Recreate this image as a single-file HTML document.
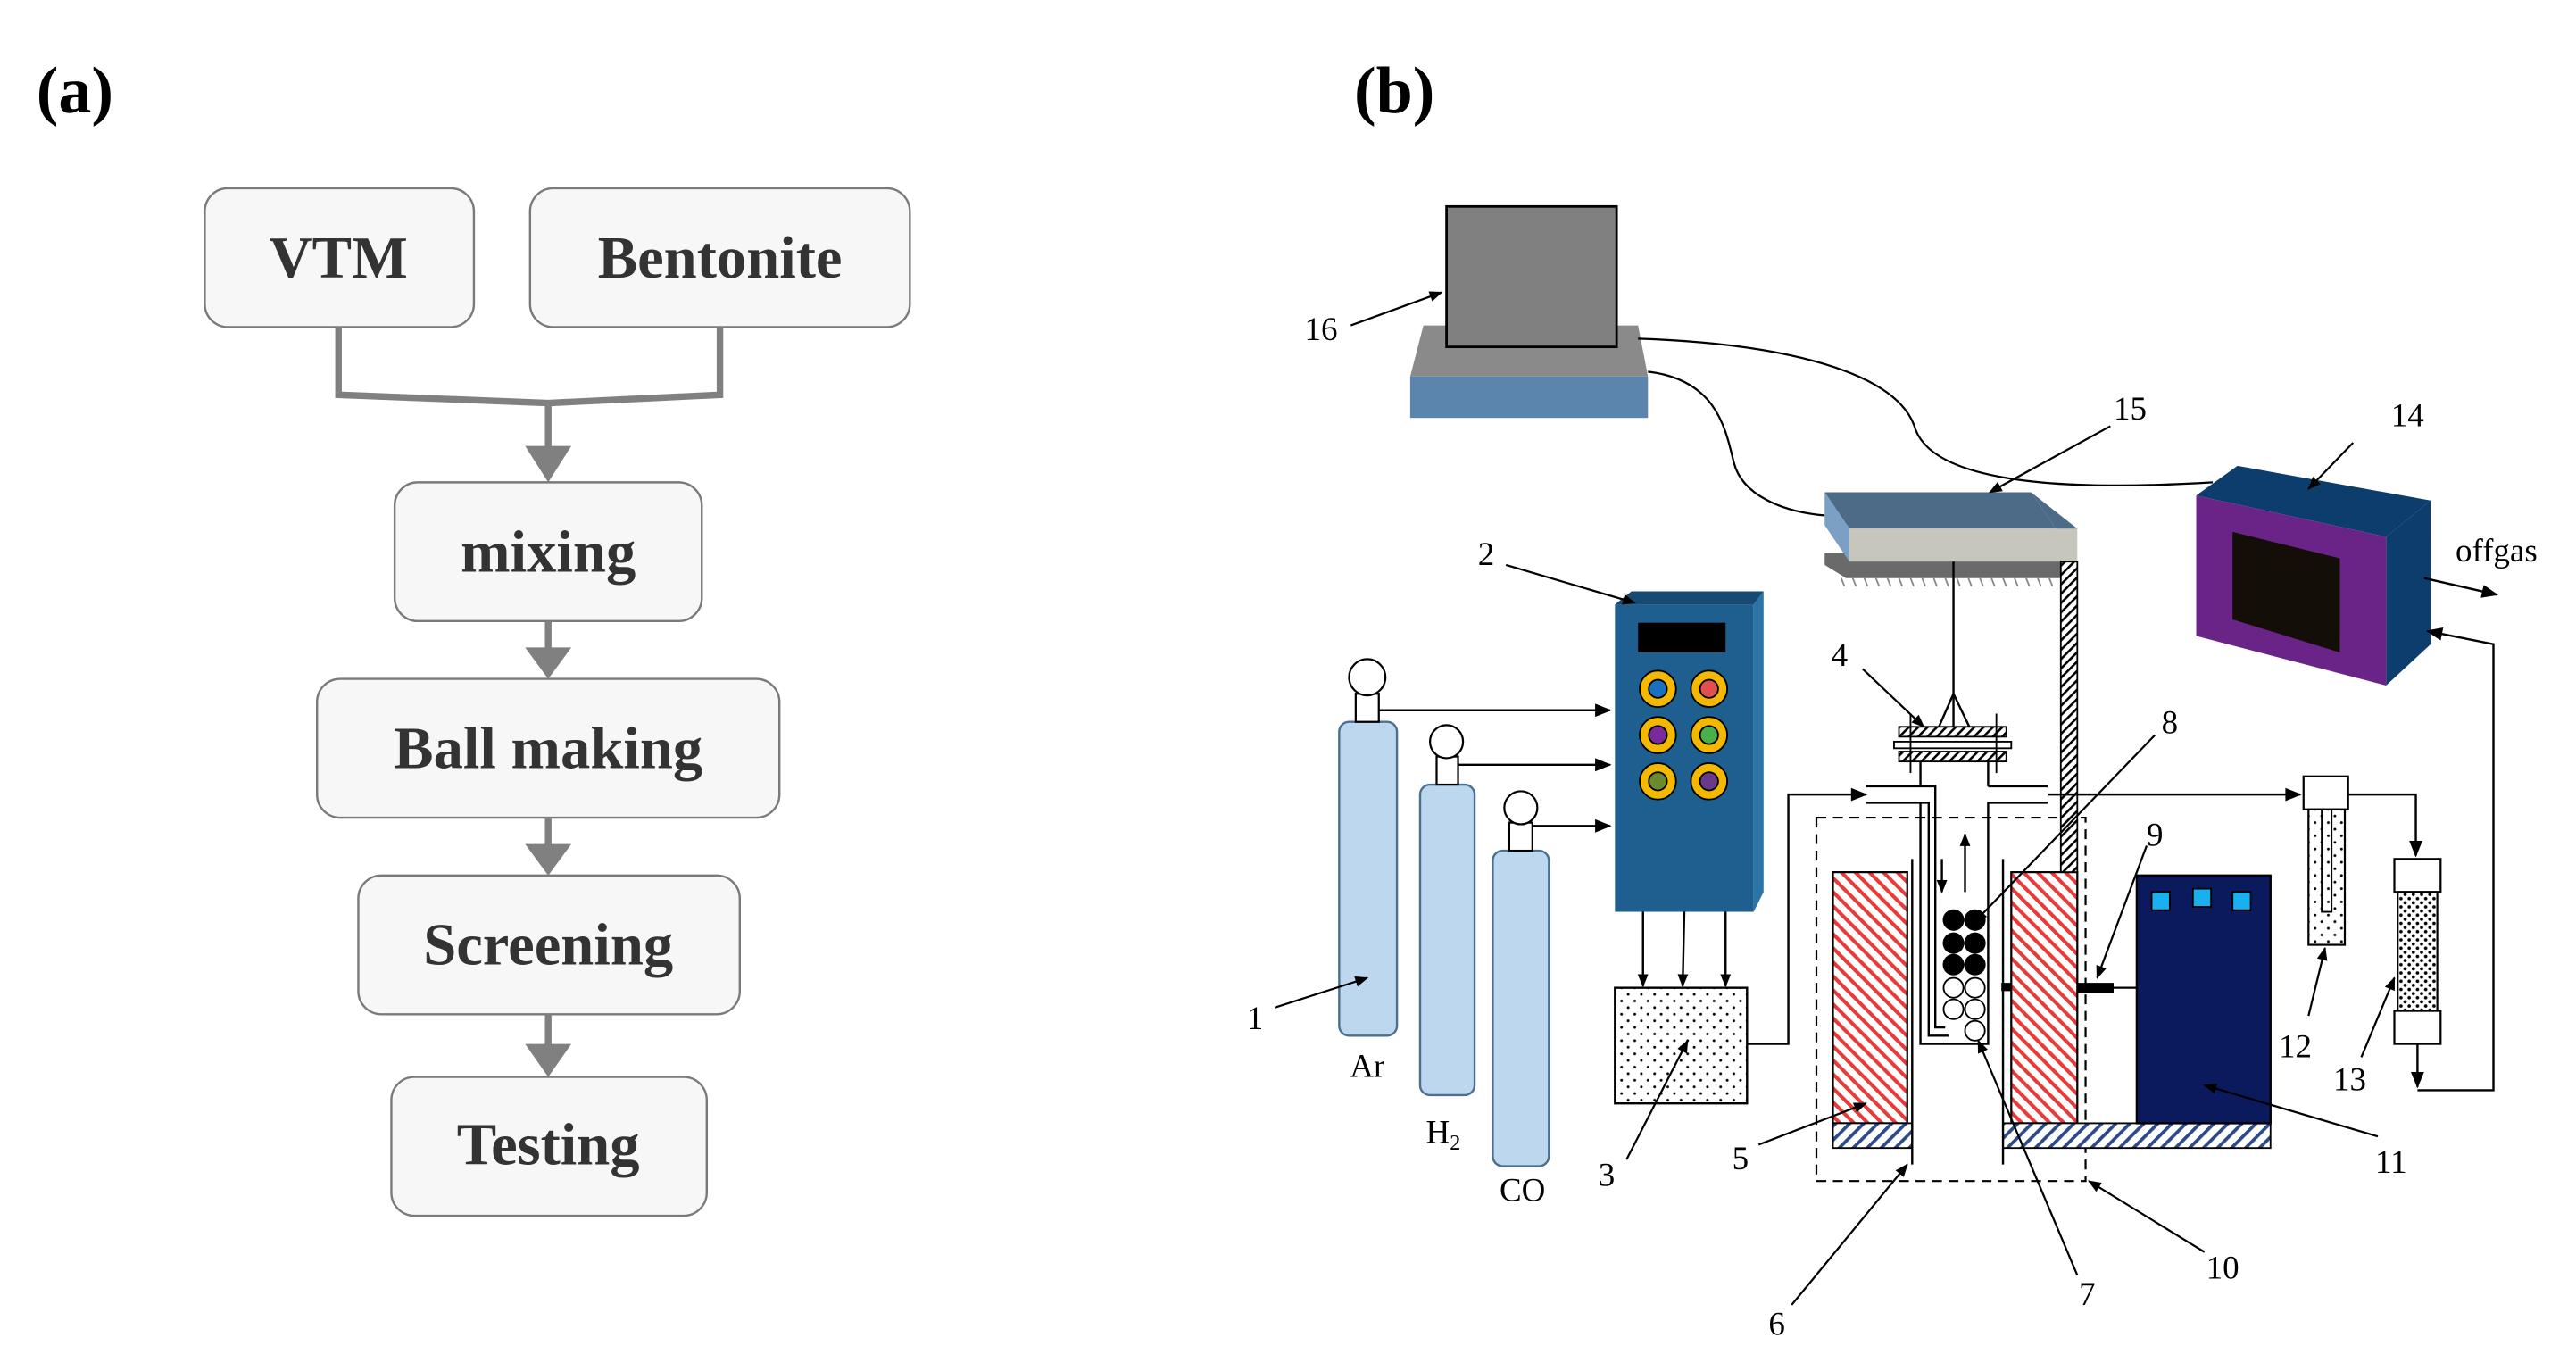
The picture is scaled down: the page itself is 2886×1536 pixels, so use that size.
<!DOCTYPE html>
<html><head><meta charset="utf-8"><style>
html,body{margin:0;padding:0;background:#fff;}
svg{display:block;}
.t{font-family:"Liberation Serif",serif;}
</style></head><body>
<svg width="2886" height="1536" viewBox="0 0 1560 830" preserveAspectRatio="none" xmlns="http://www.w3.org/2000/svg">
<defs>
<pattern id="red" width="6" height="6" patternUnits="userSpaceOnUse" patternTransform="rotate(-45)"><rect width="6" height="6" fill="#fff"/><rect width="2.2" height="6" fill="#e83a3a"/></pattern>
<pattern id="blue" width="6" height="6" patternUnits="userSpaceOnUse" patternTransform="rotate(45)"><rect width="6" height="6" fill="#fff"/><rect width="2" height="6" fill="#2a4a8a"/></pattern>
<pattern id="blk" width="4" height="4" patternUnits="userSpaceOnUse" patternTransform="rotate(45)"><rect width="4" height="4" fill="#fff"/><rect width="1.4" height="4" fill="#000"/></pattern>
<pattern id="dots" width="8" height="8" patternUnits="userSpaceOnUse"><rect width="8" height="8" fill="#fff"/><circle cx="2" cy="2" r="0.8" fill="#000"/><circle cx="6" cy="6" r="0.8" fill="#000"/></pattern>
<pattern id="dots2" width="5" height="5" patternUnits="userSpaceOnUse"><rect width="5" height="5" fill="#fff"/><circle cx="1.5" cy="1.5" r="1" fill="#000"/><circle cx="4" cy="4" r="1" fill="#000"/></pattern>
<marker id="ah" viewBox="0 0 10 10" refX="9" refY="5" markerWidth="9" markerHeight="8" orient="auto-start-reverse" markerUnits="userSpaceOnUse"><path d="M0,1 L10,5 L0,9 z" fill="#000"/></marker>
<marker id="ah2" viewBox="0 0 10 10" refX="9" refY="5" markerWidth="14" markerHeight="10" orient="auto" markerUnits="userSpaceOnUse"><path d="M0,1 L10,5 L0,9 z" fill="#000"/></marker>
</defs>

<!-- Panel (a) -->
<text x="22" y="68" class="t" font-size="40" font-weight="bold">(a)</text>
<g fill="#f7f7f7" stroke="#7a7a7a" stroke-width="1.3">
<rect x="124" y="114" width="163" height="84" rx="14"/>
<rect x="321" y="114" width="230" height="84" rx="14"/>
<rect x="239" y="292" width="186" height="84" rx="14"/>
<rect x="192" y="411" width="280" height="84" rx="14"/>
<rect x="217" y="530" width="231" height="84" rx="14"/>
<rect x="237" y="652" width="191" height="84" rx="14"/>
</g>
<g fill="none" stroke="#808080" stroke-width="4">
<polyline points="205,198 205,239 332,244 436,239 436,198"/>
<line x1="332" y1="244" x2="332" y2="272"/>
<line x1="332" y1="376" x2="332" y2="395"/>
<line x1="332" y1="495" x2="332" y2="514"/>
<line x1="332" y1="614" x2="332" y2="636"/>
</g>
<g fill="#808080">
<polygon points="318,270 346,270 332,292"/>
<polygon points="318,392 346,392 332,411"/>
<polygon points="318,511 346,511 332,530"/>
<polygon points="318,632 346,632 332,652"/>
</g>
<g class="t" font-size="36" font-weight="bold" fill="#333" text-anchor="middle">
<text x="205" y="168">VTM</text>
<text x="436" y="168">Bentonite</text>
<text x="332" y="346">mixing</text>
<text x="332" y="465">Ball making</text>
<text x="332" y="584">Screening</text>
<text x="332" y="705">Testing</text>
</g>

<!-- Panel (b) -->
<text x="820" y="68" class="t" font-size="40" font-weight="bold">(b)</text>

<polygon points="862,197 992,197 998,228 854,228" fill="#8a8a8a"/>
<rect x="854" y="228" width="144" height="25" fill="#5b85ad"/>
<rect x="876" y="125" width="103" height="85" fill="#808080" stroke="#000" stroke-width="1.5"/>
<path d="M992,205 C1080,208 1150,225 1160,260 C1175,300 1290,295 1340,292" fill="none" stroke="#000" stroke-width="1.2"/>
<path d="M998,225 C1040,230 1045,260 1050,280 C1055,300 1080,310 1105,312" fill="none" stroke="#000" stroke-width="1.2"/>

<polygon points="1105,335 1245,335 1258,345 1258,350 1118,350 1105,342" fill="#6a6a6a"/>
<g stroke="#888" stroke-width="1">
<path d="M1115,350 l2,5 M1122,350 l2,5 M1129,350 l2,5 M1136,350 l2,5 M1143,350 l2,5 M1150,350 l2,5 M1157,350 l2,5 M1164,350 l2,5 M1171,350 l2,5 M1178,350 l2,5 M1185,350 l2,5 M1192,350 l2,5 M1199,350 l2,5 M1206,350 l2,5 M1213,350 l2,5 M1220,350 l2,5 M1227,350 l2,5 M1234,350 l2,5 M1241,350 l2,5 M1248,350 l2,5 M1255,350 l2,5"/>
</g>
<polygon points="1105,298 1230,298 1245,320 1120,320" fill="#4d6a87"/>
<polygon points="1105,298 1120,320 1120,340 1105,318" fill="#7aa0c4"/>
<rect x="1120" y="320" width="138" height="20" fill="#c6c6bd"/>
<polygon points="1230,298 1258,320 1245,320" fill="#4d6a87"/>

<polygon points="1330,300 1355,282 1472,303 1445,325" fill="#0d3d6d"/>
<polygon points="1445,325 1472,303 1472,390 1445,415" fill="#0d3d6d"/>
<polygon points="1330,300 1445,325 1445,415 1330,385" fill="#6a2488"/>
<polygon points="1352,322 1417,338 1417,395 1352,375" fill="#140e08"/>
<text x="1487" y="340" class="t" font-size="20">offgas</text>
<line x1="1468" y1="350" x2="1512" y2="360" stroke="#000" stroke-width="1.3" marker-end="url(#ah2)"/>

<rect x="978" y="366" width="84" height="186" fill="#1f5f8f"/>
<polygon points="978,366 988,358 1068,358 1062,366" fill="#174a70"/>
<polygon points="1062,366 1068,358 1068,540 1062,552" fill="#2a74a8"/>
<rect x="992" y="377" width="53" height="18" fill="#000"/>
<g stroke="#000" stroke-width="1">
<circle cx="1004" cy="417" r="11" fill="#f5b800"/><circle cx="1004" cy="417" r="5.5" fill="#1a70c0"/>
<circle cx="1035" cy="417" r="11" fill="#f5b800"/><circle cx="1035" cy="417" r="5.5" fill="#e05050"/>
<circle cx="1004" cy="445" r="11" fill="#f5b800"/><circle cx="1004" cy="445" r="5.5" fill="#7a2a9a"/>
<circle cx="1035" cy="445" r="11" fill="#f5b800"/><circle cx="1035" cy="445" r="5.5" fill="#4ab04a"/>
<circle cx="1004" cy="473" r="11" fill="#f5b800"/><circle cx="1004" cy="473" r="5.5" fill="#6a8a30"/>
<circle cx="1035" cy="473" r="11" fill="#f5b800"/><circle cx="1035" cy="473" r="5.5" fill="#6a3a8a"/>
</g>

<g stroke="#4a6f90" stroke-width="1.3" fill="#bdd7ee">
<rect x="811" y="437" width="35" height="190" rx="6"/>
<rect x="860" y="475" width="33" height="188" rx="6"/>
<rect x="904" y="515" width="34" height="191" rx="6"/>
</g>
<g stroke="#000" stroke-width="1.2" fill="#fff">
<rect x="821" y="420" width="14" height="17"/><circle cx="828" cy="410" r="11"/>
<rect x="870" y="458" width="13" height="17"/><circle cx="876" cy="449" r="10"/>
<rect x="914" y="498" width="14" height="17"/><circle cx="921" cy="489" r="10"/>
</g>
<g stroke="#000" stroke-width="1.3" fill="none">
<line x1="835" y1="430" x2="975" y2="430" marker-end="url(#ah2)"/>
<line x1="883" y1="463" x2="975" y2="463" marker-end="url(#ah2)"/>
<line x1="928" y1="500" x2="975" y2="500" marker-end="url(#ah2)"/>
<line x1="995" y1="552" x2="995" y2="597" marker-end="url(#ah)"/>
<line x1="1020" y1="552" x2="1019" y2="597" marker-end="url(#ah)"/>
<line x1="1045" y1="552" x2="1045" y2="597" marker-end="url(#ah)"/>
</g>
<rect x="978" y="598" width="80" height="70" fill="url(#dots)" stroke="#000" stroke-width="1.3"/>
<polyline points="1058,632 1083,632 1083,481 1130,481" fill="none" stroke="#000" stroke-width="1.3" marker-end="url(#ah2)"/>

<rect x="1100" y="495" width="163" height="220" fill="none" stroke="#000" stroke-width="1.2" stroke-dasharray="6,4"/>
<rect x="1110" y="528" width="45" height="152" fill="url(#red)" stroke="#000" stroke-width="1.2"/>
<rect x="1218" y="528" width="40" height="152" fill="url(#red)" stroke="#000" stroke-width="1.2"/>
<rect x="1110" y="680" width="48" height="15" fill="url(#blue)" stroke="#000" stroke-width="1"/>
<rect x="1213" y="680" width="162" height="15" fill="url(#blue)" stroke="#000" stroke-width="1"/>
<rect x="1248" y="340" width="10" height="188" fill="url(#blk)" stroke="#000" stroke-width="1"/>
<g stroke="#000" stroke-width="1.3" fill="none">
<line x1="1158" y1="520" x2="1158" y2="705"/>
<line x1="1213" y1="520" x2="1213" y2="705"/>
<polyline points="1130,476 1172,476 1172,622 1178,622"/>
<polyline points="1163,486 1163,632 1204,632 1204,486 1240,486"/>
<polyline points="1130,486 1168,486 1168,627 1180,627"/>
<line x1="1204" y1="476" x2="1240" y2="476"/>
<line x1="1163" y1="476" x2="1163" y2="460"/>
<line x1="1204" y1="476" x2="1204" y2="460"/>
<line x1="1240" y1="481" x2="1393" y2="481" marker-end="url(#ah2)"/>
<line x1="1190" y1="540" x2="1190" y2="505" marker-end="url(#ah)"/>
<line x1="1176" y1="520" x2="1176" y2="540" marker-end="url(#ah)"/>
<line x1="1183" y1="340" x2="1183" y2="440"/>
<polyline points="1172,445 1183,420 1195,445"/>
</g>
<rect x="1150" y="440" width="65" height="6" fill="url(#blk)" stroke="#000" stroke-width="1"/>
<rect x="1147" y="449" width="71" height="4" fill="#fff" stroke="#000" stroke-width="1"/>
<rect x="1150" y="455" width="65" height="6" fill="url(#blk)" stroke="#000" stroke-width="1"/>
<g stroke="#000" stroke-width="1"><line x1="1157" y1="432" x2="1157" y2="468"/><line x1="1209" y1="432" x2="1209" y2="468"/></g>
<g fill="#000">
<circle cx="1183" cy="557" r="6.5"/><circle cx="1196" cy="557" r="6.5"/>
<circle cx="1183" cy="571" r="6.5"/><circle cx="1196" cy="571" r="6.5"/>
<circle cx="1183" cy="584" r="6.5"/><circle cx="1196" cy="584" r="6.5"/>
</g>
<g fill="#fff" stroke="#000" stroke-width="1">
<circle cx="1183" cy="598" r="6"/><circle cx="1196" cy="598" r="6"/>
<circle cx="1183" cy="611" r="6"/><circle cx="1196" cy="611" r="6"/>
<circle cx="1196" cy="624" r="6"/>
</g>
<rect x="1212" y="595" width="6" height="5" fill="#000"/>
<rect x="1258" y="595" width="22" height="6" fill="#000"/>
<line x1="1280" y1="598" x2="1294" y2="598" stroke="#000" stroke-width="1.2"/>

<rect x="1294" y="530" width="81" height="150" fill="#0b1a5c" stroke="#000" stroke-width="1.3"/>
<g fill="#1ab0f0" stroke="#000" stroke-width="1"><rect x="1303" y="540" width="11" height="11"/><rect x="1328" y="538" width="11" height="11"/><rect x="1352" y="540" width="11" height="11"/></g>

<rect x="1395" y="470" width="27" height="20" fill="#fff" stroke="#000" stroke-width="1.2"/>
<rect x="1398" y="490" width="22" height="82" fill="url(#dots)" stroke="#000" stroke-width="1.2"/>
<g stroke="#000" stroke-width="1" fill="none"><polyline points="1406,490 1406,552 1412,552 1412,490"/></g>
<polyline points="1422,481 1463,481 1463,518" fill="none" stroke="#000" stroke-width="1.3" marker-end="url(#ah2)"/>
<rect x="1450" y="520" width="28" height="20" fill="#fff" stroke="#000" stroke-width="1.2"/>
<rect x="1452" y="540" width="24" height="72" fill="url(#dots2)" stroke="#000" stroke-width="1.2"/>
<rect x="1450" y="612" width="28" height="20" fill="#fff" stroke="#000" stroke-width="1.2"/>
<line x1="1464" y1="632" x2="1464" y2="658" stroke="#000" stroke-width="1.3" marker-end="url(#ah2)"/>
<polyline points="1464,660 1510,660 1510,390 1470,382" fill="none" stroke="#000" stroke-width="1.3" marker-end="url(#ah2)"/>

<g stroke="#000" stroke-width="1.2" fill="none">
<line x1="818" y1="197" x2="873" y2="177" marker-end="url(#ah)"/>
<line x1="1278" y1="258" x2="1205" y2="298" marker-end="url(#ah)"/>
<line x1="1425" y1="268" x2="1398" y2="296" marker-end="url(#ah)"/>
<line x1="912" y1="342" x2="990" y2="365" marker-end="url(#ah)"/>
<line x1="772" y1="610" x2="828" y2="592" marker-end="url(#ah)"/>
<line x1="985" y1="702" x2="1022" y2="630" marker-end="url(#ah)"/>
<line x1="1128" y1="405" x2="1165" y2="440" marker-end="url(#ah)"/>
<line x1="1305" y1="445" x2="1196" y2="558" marker-end="url(#ah)"/>
<line x1="1300" y1="512" x2="1270" y2="592" marker-end="url(#ah)"/>
<line x1="1065" y1="693" x2="1130" y2="668" marker-end="url(#ah)"/>
<line x1="1085" y1="790" x2="1155" y2="705" marker-end="url(#ah)"/>
<line x1="1258" y1="772" x2="1198" y2="630" marker-end="url(#ah)"/>
<line x1="1335" y1="758" x2="1265" y2="715" marker-end="url(#ah)"/>
<line x1="1440" y1="688" x2="1335" y2="657" marker-end="url(#ah)"/>
<line x1="1398" y1="615" x2="1408" y2="574" marker-end="url(#ah)"/>
<line x1="1430" y1="640" x2="1450" y2="592" marker-end="url(#ah)"/>
</g>
<g class="t" font-size="20" fill="#000" text-anchor="middle">
<text x="800" y="206">16</text>
<text x="1290" y="254">15</text>
<text x="1458" y="258">14</text>
<text x="900" y="342">2</text>
<text x="760" y="623">1</text>
<text x="828" y="652">Ar</text>
<text x="874" y="692">H<tspan font-size="13" dy="4">2</tspan></text>
<text x="922" y="727">CO</text>
<text x="973" y="718">3</text>
<text x="1114" y="403">4</text>
<text x="1314" y="444">8</text>
<text x="1305" y="512">9</text>
<text x="1054" y="708">5</text>
<text x="1076" y="808">6</text>
<text x="1264" y="790">7</text>
<text x="1346" y="774">10</text>
<text x="1448" y="710">11</text>
<text x="1390" y="640">12</text>
<text x="1423" y="660">13</text>
</g>
</svg>
</body></html>
